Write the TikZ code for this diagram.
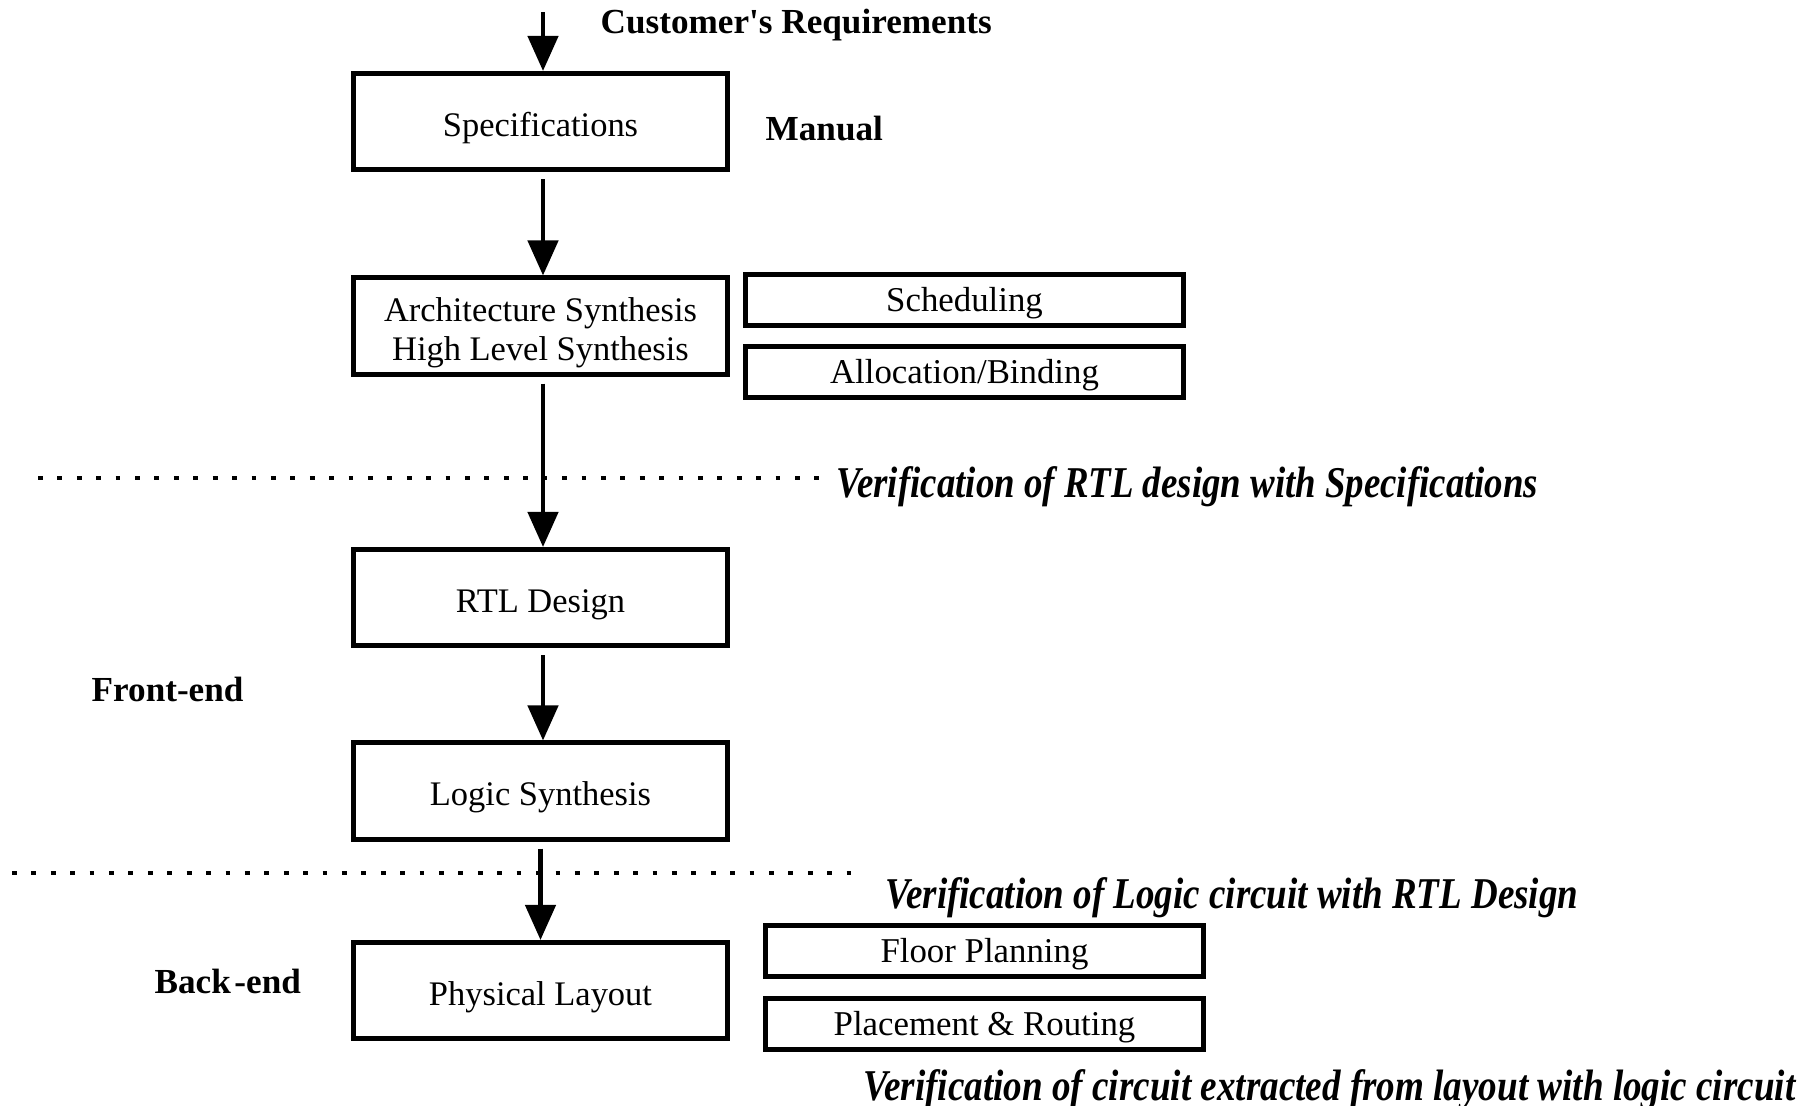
\documentclass[tikz,border=0pt]{standalone}
\usepackage{fontspec}
\usepackage{graphicx}
\setmainfont{Liberation Serif}
\usetikzlibrary{arrows.meta}
% box labels sit with their baseline a fixed distance below the box centre
\newcommand\boxline[1]{\raisebox{-0.145cm}[0pt][0pt]{#1}}
\newcommand\subline[1]{\raisebox{-0.115cm}[0pt][0pt]{#1}}
\begin{document}
\begin{tikzpicture}[x=0.01cm,y=-0.01cm,
  flowbox/.style={draw,line width=0.05cm,minimum width=3.74cm,minimum height=0.96cm,
    inner sep=0pt,font=\fontsize{9.8}{11.1}\selectfont},
  subbox/.style={draw,line width=0.05cm,minimum width=4.38cm,minimum height=0.51cm,
    inner sep=0pt,font=\fontsize{9.9}{11.1}\selectfont},
  flow/.style={line width=0.045cm,-{Triangle[length=0.35cm,width=0.30cm]}},
  divider/.style={line width=0.048cm,dash pattern=on 0.048cm off 0.146cm},
  tag/.style={font=\fontsize{10}{12}\selectfont\bfseries,inner sep=0pt,anchor=base west},
  check/.style={font=\fontsize{12.5}{15}\selectfont\bfseries\itshape,inner sep=0pt,anchor=base west}]
\useasboundingbox (0,0) rectangle (1815,1105);

% main design flow
\node[flowbox] (spec)  at (540.5,121.5) {\boxline{Specifications}};
\node[flowbox] (arch)  at (540.5,326)   {\raisebox{-0.345cm}[0pt][0pt]{\begin{tabular}[b]{@{}c@{}}Architecture Synthesis\\High Level Synthesis\end{tabular}}};
\node[flowbox] (rtl)   at (540.5,597.5) {\boxline{RTL Design}};
\node[flowbox] (logic) at (540.5,791)   {\boxline{Logic Synthesis}};
\node[flowbox] (phys)  at (540.5,990.5) {\boxline{Physical Layout}};

% sub-steps
\node[subbox] (sched) at (964.5,300)    {\subline{Scheduling}};
\node[subbox] (alloc) at (964.5,372)    {\subline{Allocation/Binding}};
\node[subbox] (floor) at (984.5,950.5)  {\subline{Floor Planning}};
\node[subbox] (place) at (984.5,1023.5) {\subline{Placement \& Routing}};

% labels
\node[tag] (cust)   at (600,33)  {Customer\textquotesingle s Requirements};
\node[tag] (manual) at (765,140) {Manual};
\node[tag] (front)  at (91,701)  {Front-end};
\node[tag] (back)   at (154,993) {Back\kern0.1em-end};

% verification steps
\node[check] (v1) at (836,497.5)  {\resizebox{7.01cm}{\height}{Verification of RTL design with Specifications}};
\node[check] (v2) at (885,908)    {\resizebox{6.92cm}{\height}{Verification of Logic circuit with RTL Design}};
\node[check] (v3) at (863,1100.5) {\resizebox{9.31cm}{\height}{Verification of circuit extracted from layout with logic circuit}};

% flow arrows
\coordinate (in) at (543,12);
\draw[flow] (in) -- (in |- spec.north);
\draw[flow] ([yshift=-0.07cm,xshift=0.025cm]spec.south) -- ([xshift=0.025cm]arch.north);
\draw[flow] ([yshift=-0.07cm,xshift=0.025cm]arch.south) -- ([xshift=0.025cm]rtl.north);
\draw[flow] ([yshift=-0.07cm,xshift=0.025cm]rtl.south)  -- ([xshift=0.025cm]logic.north);
\draw[flow] ([yshift=-0.07cm]logic.south) -- (phys.north);

% front-end / back-end dividers
\coordinate (d1a) at (38,478);
\coordinate (d1b) at (828,478);
\coordinate (d2a) at (12,873);
\coordinate (d2b) at (862,873);
\draw[divider] (d1a) -- (d1b);
\draw[divider] (d2a) -- (d2b);
\end{tikzpicture}
\end{document}
